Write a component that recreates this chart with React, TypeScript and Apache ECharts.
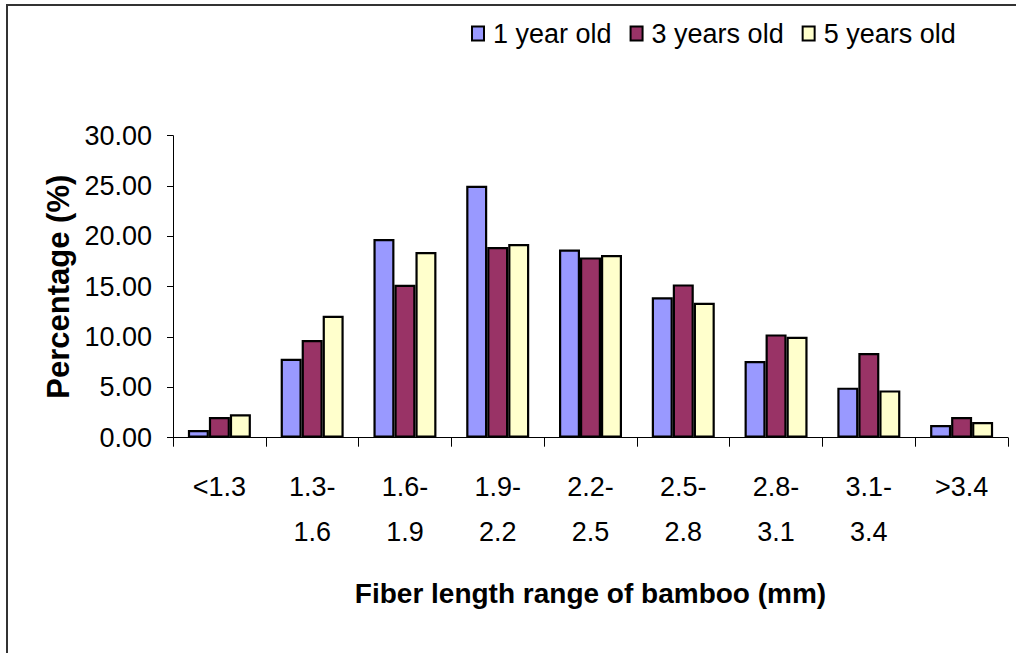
import React, { useEffect, useRef } from "react";
import * as echarts from "echarts";

const categories = ["<1.3", "1.3-\n1.6", "1.6-\n1.9", "1.9-\n2.2", "2.2-\n2.5", "2.5-\n2.8", "2.8-\n3.1", "3.1-\n3.4", ">3.4"];
const seriesNames = ["1 year old", "3 years old", "5 years old"];
const oneYear = [0.76, 7.85, 19.74, 25.03, 18.7, 13.94, 7.62, 4.97, 1.26];
const threeYears = [2.05, 9.7, 15.2, 18.94, 17.91, 15.23, 10.26, 8.41, 2.05];
const fiveYears = [2.32, 12.12, 18.44, 19.24, 18.15, 13.41, 10.03, 4.7, 1.56];
const colors = ["#9999FF", "#993366", "#FFFFCC"];
const xTitle = "Fiber length range of bamboo (mm)";
const yTitle = "Percentage (%)";

const SANS = "'Liberation Sans', Arial, sans-serif";

export default function App() {
  const ref = useRef<HTMLDivElement>(null);
  useEffect(() => {
    if (!ref.current) return;
    const chart = echarts.init(ref.current, undefined, { renderer: "svg" });
    const values = [oneYear, threeYears, fiveYears];
    chart.setOption({
      animation: false,
      backgroundColor: "#ffffff",
      graphic: [
        {
          type: "rect",
          shape: { x: 7, y: 5, width: 1100, height: 700 },
          style: { fill: "none", stroke: "#333333", lineWidth: 2 },
          silent: true,
        },
      ],
      legend: {
        left: 466,
        top: 15,
        width: 600,
        itemWidth: 12,
        itemHeight: 14,
        itemGap: 18,
        icon: "rect",
        textStyle: { fontFamily: SANS, fontSize: 27, color: "#000", padding: [0, 0, 0, 4] },
        data: seriesNames,
      },
      grid: { left: 173, right: 8, top: 135.7, bottom: 215.3, containLabel: false },
      xAxis: {
        type: "category",
        data: categories,
        name: xTitle,
        nameLocation: "middle",
        nameGap: 142,
        nameTextStyle: { fontFamily: SANS, fontSize: 28, fontWeight: "bold", color: "#000" },
        axisLine: { lineStyle: { color: "#000", width: 1 } },
        axisTick: { show: true, length: 9, lineStyle: { color: "#000" } },
        axisLabel: {
          fontFamily: SANS,
          fontSize: 27,
          color: "#000",
          lineHeight: 45,
          margin: 27,
          interval: 0,
        },
        splitLine: { show: false },
      },
      yAxis: {
        type: "value",
        min: 0,
        max: 30,
        interval: 5,
        name: yTitle,
        nameLocation: "middle",
        nameRotate: 90,
        nameGap: 93,
        nameTextStyle: { fontFamily: SANS, fontSize: 31, fontWeight: "bold", color: "#000" },
        axisLine: { show: true, lineStyle: { color: "#000", width: 1 } },
        axisTick: { show: true, length: 6, lineStyle: { color: "#000" } },
        axisLabel: {
          fontFamily: SANS,
          fontSize: 27,
          color: "#000",
          margin: 21,
          formatter: (v: number) => v.toFixed(2),
        },
        splitLine: { show: false },
      },
      series: seriesNames.map((name, i) => ({
        name,
        type: "bar",
        data: values[i],
        barWidth: 21,
        barGap: "0%",
        itemStyle: { color: colors[i], borderColor: "#000", borderWidth: 2.2 },
      })),
    });
    return () => chart.dispose();
  }, []);
  return (
    <div
      ref={ref}
      style={{ position: "fixed", left: 0, top: 0, width: 1016, height: 653, background: "#fff" }}
    />
  );
}
